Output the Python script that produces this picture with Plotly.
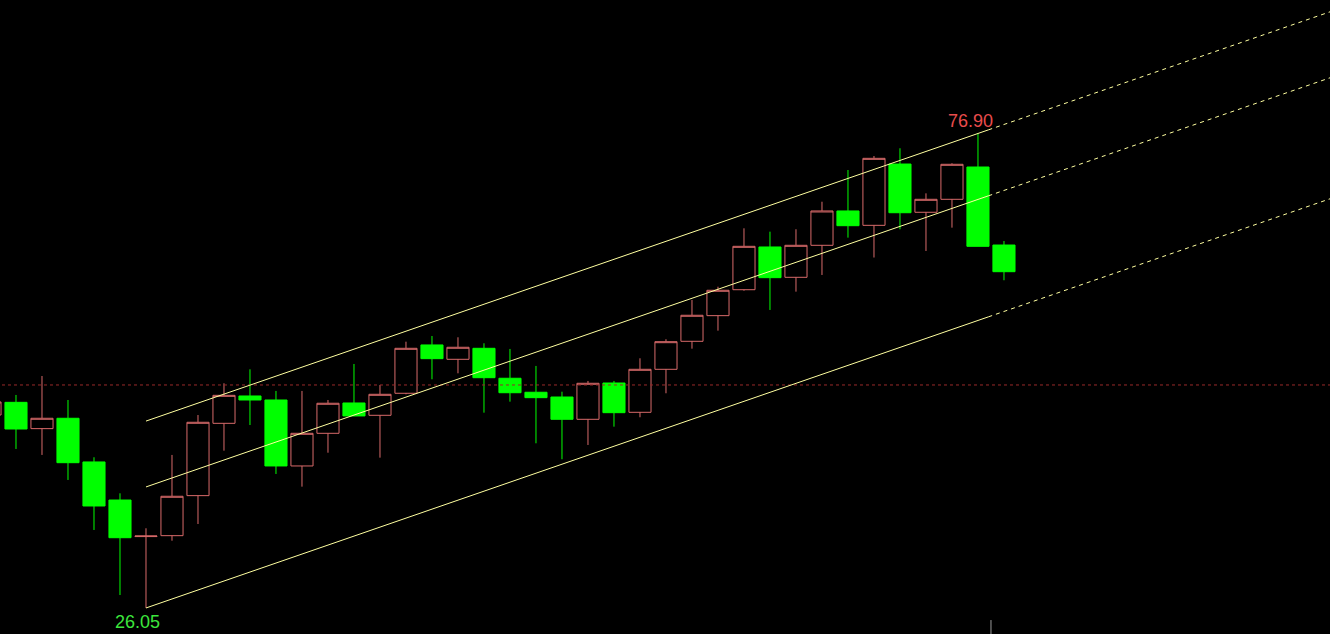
import plotly.graph_objects as go

# ---- data ----
idx = list(range(-1, 39))
opens = [46.73, 48.09, 45.27, 46.38, 41.70, 37.62, 33.70, 33.80, 38.09, 45.84,
         48.77, 48.34, 41.27, 44.77, 48.02, 46.70, 49.06, 54.24, 52.70, 53.88,
         50.67, 49.17, 48.66, 46.27, 50.16, 47.02, 51.63, 54.63, 57.38, 60.16,
         64.74, 61.49, 64.92, 68.60, 67.06, 73.63, 68.46, 69.85, 73.31, 64.95]
highs = [48.20, 48.88, 50.91, 48.34, 42.20, 38.34, 34.59, 42.45, 46.73, 50.13,
         51.63, 49.31, 49.31, 48.34, 52.20, 49.95, 54.59, 55.20, 55.06, 54.42,
         53.81, 51.99, 49.23, 50.38, 50.38, 52.81, 54.85, 59.06, 60.48, 66.74,
         66.38, 66.64, 69.59, 72.99, 74.49, 75.32, 70.49, 73.71, 76.90, 65.38]
lows = [46.60, 43.09, 42.45, 39.77, 34.41, 27.44, 26.05, 33.26, 35.05, 42.91,
        45.66, 40.41, 39.05, 42.69, 46.63, 42.16, 48.95, 50.56, 51.20, 46.98,
        48.16, 43.70, 41.99, 43.52, 45.48, 46.49, 49.06, 53.84, 55.77, 60.05,
        57.99, 59.95, 61.74, 65.74, 63.61, 66.64, 64.31, 66.81, 64.81, 61.17]
closes = [48.13, 45.23, 46.38, 41.62, 36.98, 33.58, 33.76, 38.02, 45.95, 48.84,
          48.34, 41.27, 44.77, 47.99, 46.63, 48.95, 53.88, 52.77, 53.99, 50.73,
          49.12, 48.59, 46.27, 50.13, 46.98, 51.63, 54.59, 57.42, 60.10, 64.81,
          61.45, 64.92, 68.60, 67.02, 74.24, 68.41, 69.85, 73.60, 64.81, 62.09]

ref_level = 49.95  # dotted horizontal reference

# channel lines: x anchors (start, end of solid part, right edge) and values
chan_x = [5, 37.4, 50.6]
chan_lower = [26.05, 57.25, 69.96]
chan_middle = [39.02, 70.22, 82.93]
chan_upper = [46.08, 77.29, 90.00]

hi_label = "76.90"
lo_label = "26.05"

RED = "#d86a6a"
GREEN = "#00ff00"
CH = "#ffffa0"

fig = go.Figure()

fig.add_trace(go.Candlestick(
    x=idx, open=opens, high=highs, low=lows, close=closes,
    increasing=dict(line=dict(color=RED, width=1), fillcolor="black"),
    decreasing=dict(line=dict(color=GREEN, width=1), fillcolor=GREEN),
    whiskerwidth=0, hoverinfo="skip", showlegend=False,
))

# reference dotted line
fig.add_trace(go.Scatter(
    x=[-1, 51], y=[ref_level, ref_level], mode="lines",
    line=dict(color="#9a2a2a", width=1, dash="dot"),
    hoverinfo="skip", showlegend=False))

for vals in (chan_lower, chan_middle, chan_upper):
    fig.add_trace(go.Scatter(
        x=chan_x[:2], y=vals[:2], mode="lines",
        line=dict(color=CH, width=1), hoverinfo="skip", showlegend=False))
    fig.add_trace(go.Scatter(
        x=chan_x[1:], y=vals[1:], mode="lines",
        line=dict(color=CH, width=1, dash="4px,4px"),
        hoverinfo="skip", showlegend=False))

imax = highs.index(max(highs))
imin = lows.index(min(lows))
fig.add_annotation(x=idx[imax], y=highs[imax], text=hi_label, showarrow=False,
                   xanchor="center", yanchor="middle", xshift=-7, yshift=13,
                   font=dict(family="Liberation Sans, Arial", size=18, color="#e84c4c"))
fig.add_annotation(x=idx[imin], y=lows[imin], text=lo_label, showarrow=False,
                   xanchor="center", yanchor="middle", xshift=-8, yshift=-14,
                   font=dict(family="Liberation Sans, Arial", size=18, color="#3ce63c"))

# small gray marker at bottom
fig.add_shape(type="line", xref="x", yref="paper", x0=37.5, x1=37.5, y0=0, y1=0.022,
              line=dict(color="#9a9a9a", width=1))

fig.update_layout(
    width=1330, height=634,
    margin=dict(l=0, r=0, t=0, b=0),
    paper_bgcolor="black", plot_bgcolor="black",
    showlegend=False, boxgap=0.15, boxgroupgap=0,
    xaxis=dict(range=[-0.615, 50.54], visible=False, rangeslider=dict(visible=False),
               fixedrange=True),
    yaxis=dict(range=[23.26, 91.21], visible=False, fixedrange=True),
)

fig.write_html("out.html", config={"displayModeBar": False},
               post_script="document.body.style.margin='0px';document.body.style.background='black';")
